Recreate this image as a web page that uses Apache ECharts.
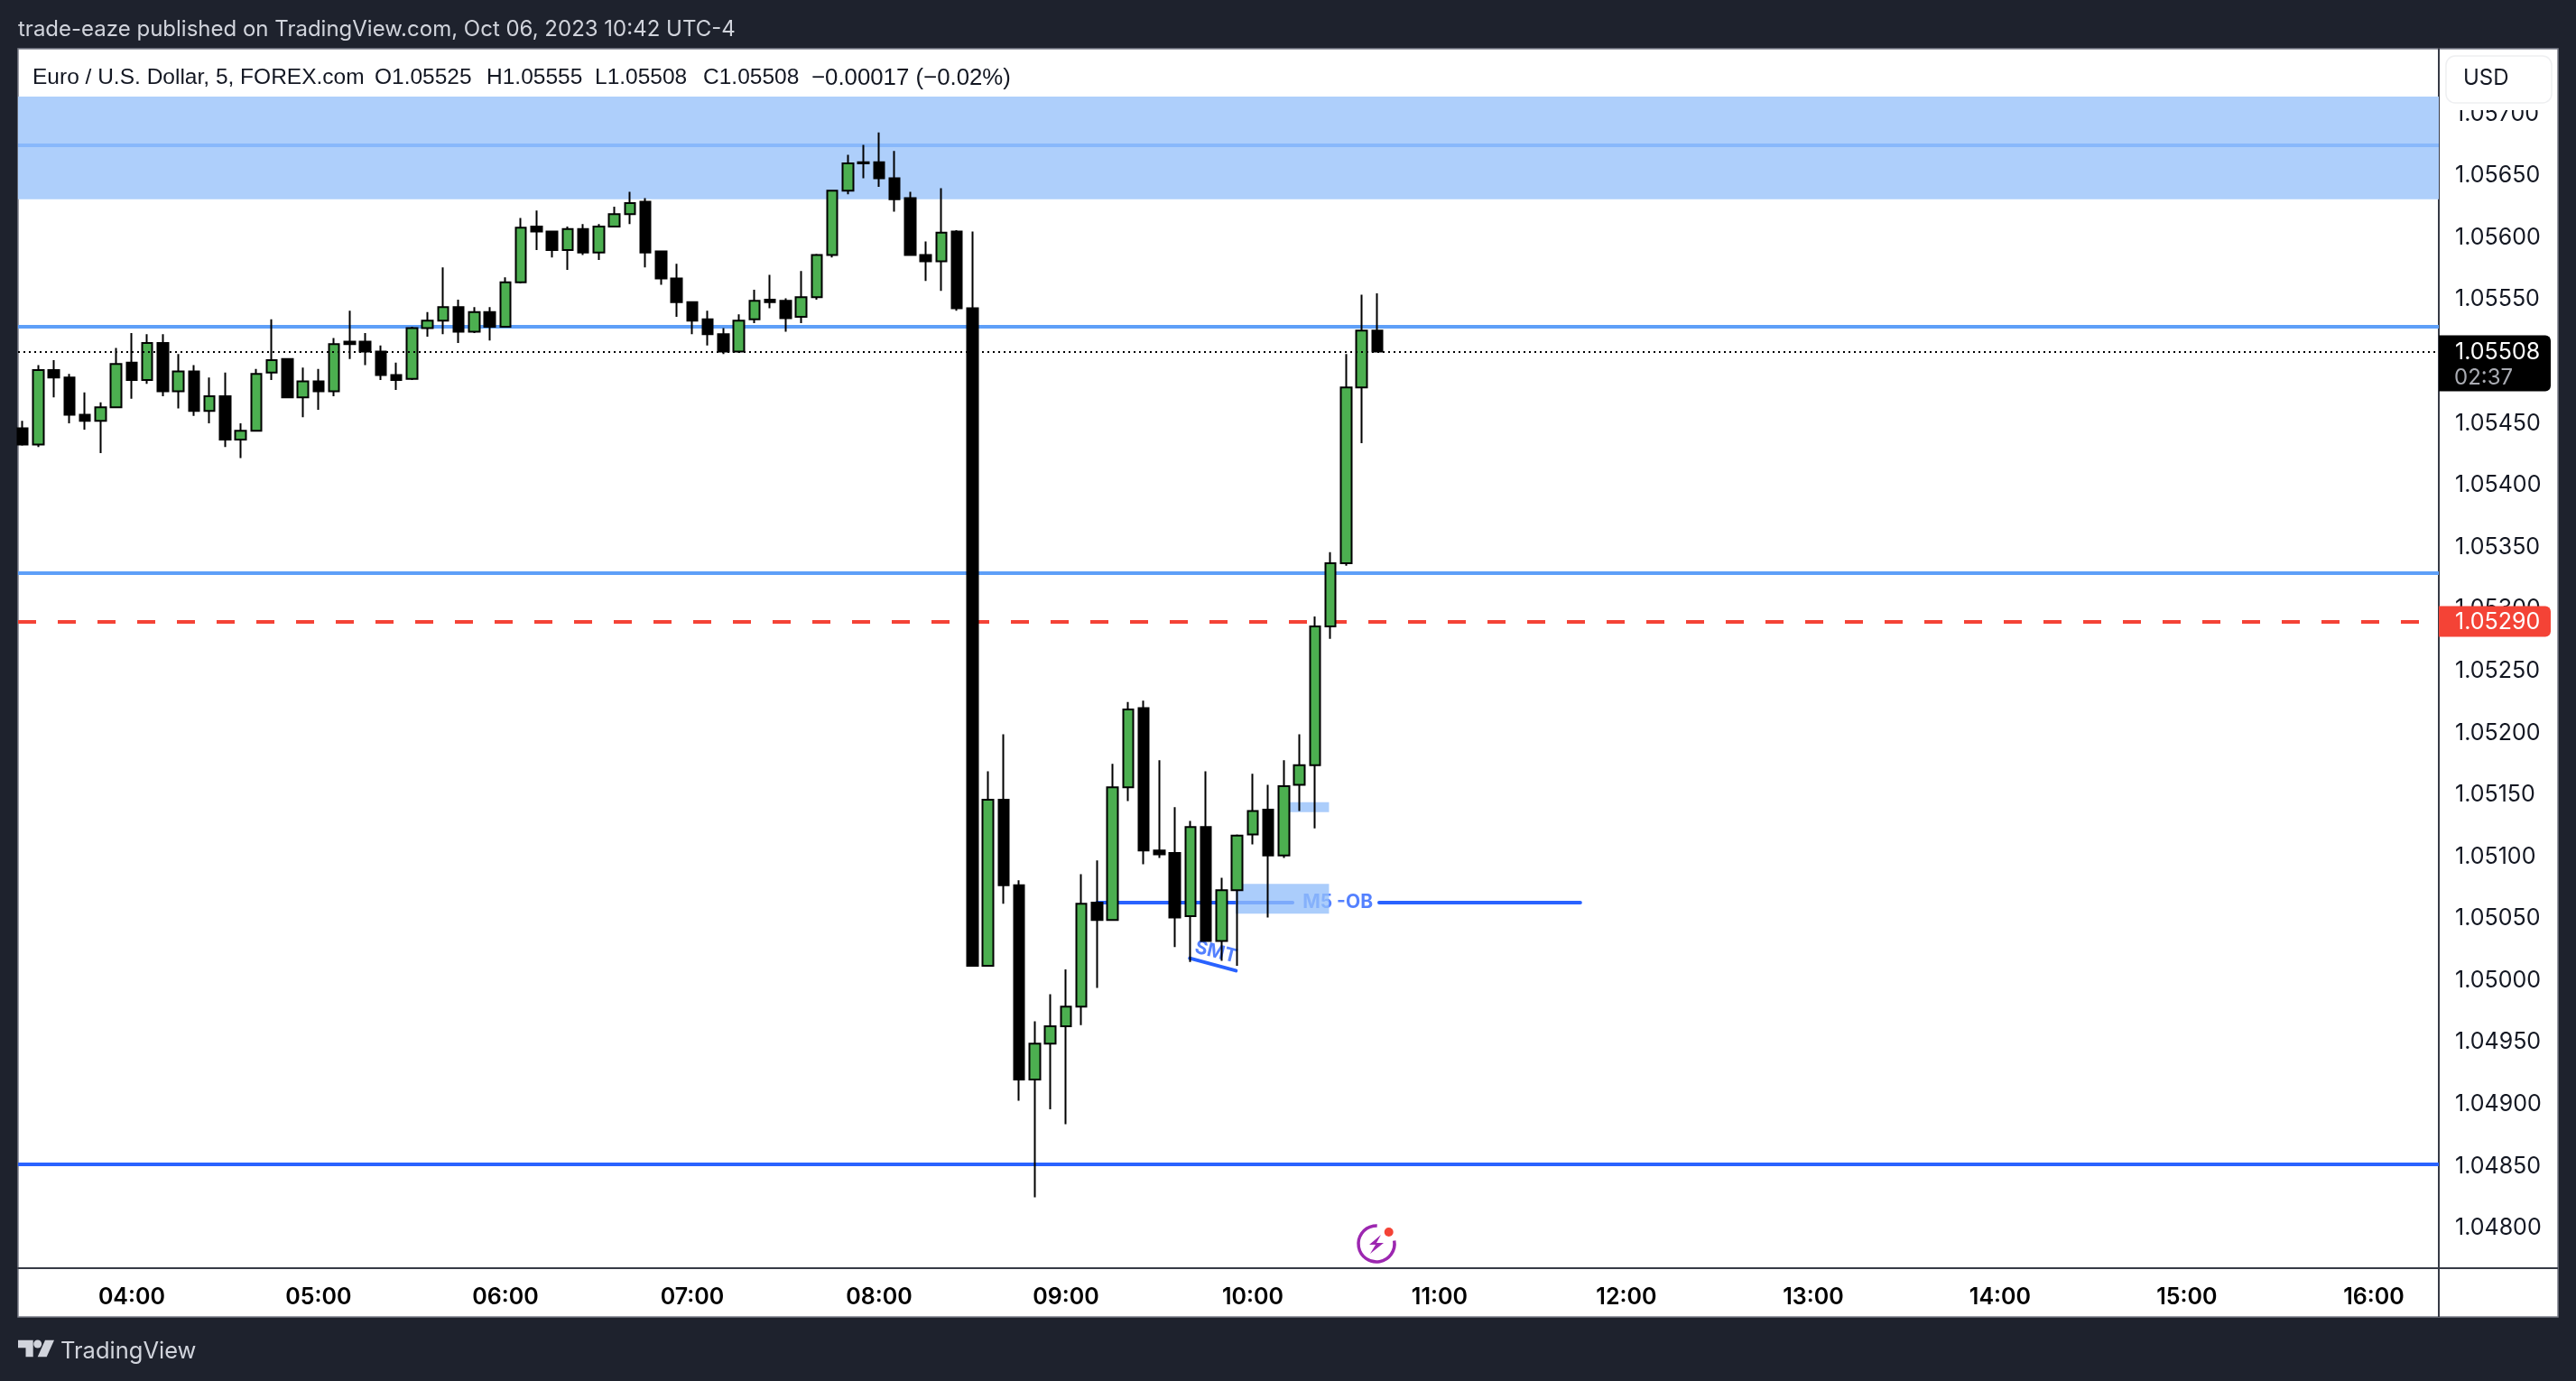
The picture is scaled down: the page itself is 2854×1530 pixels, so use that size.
<!DOCTYPE html>
<html><head><meta charset="utf-8">
<style>html,body{margin:0;padding:0;background:#1e222d}#c{width:2854px;height:1530px}</style>
<script src="https://cdn.jsdelivr.net/npm/echarts@6/dist/echarts.min.js"></script>
</head><body><div id="c"></div>
<script>
const firstBarMinute = 205, barMinutes = 5; // 03:25, 5-minute bars
const opens = [1.05446,1.05433,1.05493,1.05487,1.05457,1.05452,1.05463,1.05499,1.05485,1.05515,
1.05476,1.05492,1.05460,1.05472,1.05437,1.05444,1.05491,1.05502,1.05471,1.05484,
1.05476,1.05516,1.05516,1.05508,1.05489,1.05486,1.05527,1.05533,1.05544,1.05524,
1.05540,1.05528,1.05564,1.05609,1.05605,1.05590,1.05607,1.05588,1.05609,1.05619,
1.05629,1.05589,1.05567,1.05548,1.05534,1.05522,1.05508,1.05534,1.05550,1.05549,
1.05536,1.05552,1.05586,1.05638,1.05661,1.05661,1.05648,1.05632,1.05586,1.05581,
1.05605,1.05543,1.05012,1.05146,1.05077,1.04920,1.04949,1.04963,1.04979,1.05063,
1.05049,1.05156,1.05220,1.05105,1.05103,1.05052,1.05124,1.05032,1.05073,1.05118,
1.05138,1.05101,1.05158,1.05174,1.05286,1.05337,1.05479,1.05525];
const closes = [1.05433,1.05493,1.05487,1.05457,1.05452,1.05463,1.05498,1.05485,1.05515,1.05476,
1.05492,1.05460,1.05472,1.05437,1.05444,1.05490,1.05501,1.05471,1.05484,1.05476,
1.05514,1.05514,1.05508,1.05489,1.05485,1.05527,1.05533,1.05544,1.05524,1.05540,
1.05528,1.05564,1.05608,1.05605,1.05590,1.05607,1.05588,1.05609,1.05619,1.05628,
1.05588,1.05567,1.05548,1.05533,1.05522,1.05508,1.05533,1.05549,1.05548,1.05535,
1.05552,1.05586,1.05638,1.05660,1.05660,1.05648,1.05631,1.05586,1.05581,1.05604,
1.05543,1.05012,1.05146,1.05077,1.04920,1.04949,1.04963,1.04979,1.05062,1.05049,
1.05156,1.05219,1.05105,1.05102,1.05051,1.05124,1.05032,1.05073,1.05117,1.05137,
1.05101,1.05157,1.05174,1.05286,1.05337,1.05479,1.05525,1.05508];
const highs = [1.05452,1.05497,1.05501,1.05490,1.05475,1.05467,1.05511,1.05523,1.05522,1.05522,
1.05506,1.05497,1.05487,1.05491,1.05450,1.05494,1.05534,1.05502,1.05495,1.05494,
1.05519,1.05541,1.05523,1.05513,1.05499,1.05528,1.05540,1.05576,1.05550,1.05544,
1.05544,1.05568,1.05616,1.05622,1.05605,1.05609,1.05611,1.05611,1.05625,1.05637,
1.05632,1.05589,1.05579,1.05548,1.05541,1.05527,1.05538,1.05558,1.05570,1.05551,
1.05573,1.05587,1.05638,1.05667,1.05675,1.05685,1.05670,1.05637,1.05597,1.05640,
1.05606,1.05605,1.05169,1.05199,1.05081,1.04967,1.04989,1.05009,1.05086,1.05097,
1.05175,1.05225,1.05226,1.05178,1.05140,1.05129,1.05169,1.05083,1.05118,1.05167,
1.05158,1.05178,1.05199,1.05294,1.05346,1.05506,1.05554,1.05555];
const lows = [1.05432,1.05431,1.05471,1.05450,1.05445,1.05426,1.05463,1.05470,1.05482,1.05472,
1.05462,1.05456,1.05450,1.05431,1.05422,1.05444,1.05485,1.05471,1.05455,1.05461,
1.05472,1.05502,1.05497,1.05485,1.05477,1.05485,1.05520,1.05522,1.05515,1.05523,
1.05517,1.05528,1.05563,1.05590,1.05584,1.05574,1.05586,1.05582,1.05609,1.05611,
1.05576,1.05562,1.05536,1.05522,1.05513,1.05506,1.05507,1.05531,1.05543,1.05524,
1.05531,1.05550,1.05584,1.05635,1.05648,1.05641,1.05621,1.05586,1.05565,1.05557,
1.05541,1.05012,1.05012,1.05062,1.04903,1.04825,1.04896,1.04884,1.04964,1.04994,
1.05049,1.05145,1.05094,1.05099,1.05027,1.05015,1.05032,1.05016,1.05012,1.05110,
1.05051,1.05099,1.05137,1.05123,1.05276,1.05335,1.05434,1.05508];

const priceTicks = [1.048,1.0485,1.049,1.0495,1.05,1.0505,1.051,1.0515,1.052,1.0525,1.053,1.0535,1.054,1.0545,1.055,1.0555,1.056,1.0565,1.057];
const hourTicks = [240,300,360,420,480,540,600,660,720,780,840,900,960];
const hourLabels = ['04:00','05:00','06:00','07:00','08:00','09:00','10:00','11:00','12:00','13:00','14:00','15:00','16:00'];

const zoneTop = 1.05714, zoneBottom = 1.05631, zoneMid = 1.05675;
const levelUpper = 1.05528, levelLower = 1.05329, levelBottom = 1.04852;
const targetPrice = 1.05290, lastPrice = 1.05508;
const obPrice = 1.05063, obSegmentA = [550,612.8], obSegmentB = [640.6,705.2];
const obBox = [594.5,624.5,1.05054,1.05078], fvgBox = [610,624.5,1.05136,1.05144];
const smtLine = [[579.8,1.05018],[594.6,1.05008]], smtLabel = [588.2,1.05023], obLabel = [627.3,1.05063];

const PLOT = {l:20,t:54,r:2702,b:1405};
const FONT = 'Inter, "Noto Sans", sans-serif';
const LEG = '"Liberation Sans", Arial, sans-serif';

const chart = echarts.init(document.getElementById('c'), null, {renderer:'canvas', width:2854, height:1530});
const candleData = opens.map((o,i)=>[firstBarMinute+i*barMinutes,o,closes[i],lows[i],highs[i]]);
const noLabel = {show:false};
const hline = (y,color,width,type)=>({yAxis:y,lineStyle:{color,width,type:type||'solid',cap:'butt',opacity:1}});

function txt(x,y,text,fill,size,opts){
  return Object.assign({type:'text',x,y,z:120,silent:true,style:Object.assign({text,fill,fontSize:size,fontFamily:FONT,textVerticalAlign:'middle',textAlign:'left'},(opts||{}))});
}

const option = {
  animation:false,
  backgroundColor:'#1e222d',
  grid:{left:PLOT.l,top:PLOT.t,width:PLOT.r-PLOT.l,height:PLOT.b-PLOT.t,containLabel:false},
  xAxis:{type:'value',min:203.5,max:980.9,scale:true,
    axisLine:{show:true,onZero:false,lineStyle:{color:'#363a45',width:2}},
    axisTick:{show:false},splitLine:{show:false},
    axisLabel:{customValues:hourTicks,margin:20,color:'#000',fontSize:25,fontWeight:600,fontFamily:FONT,
      formatter:v=>hourLabels[hourTicks.indexOf(v)]||'',hideOverlap:false}},
  yAxis:{type:'value',position:'right',min:1.047677,max:1.057526,scale:true,
    axisLine:{show:true,onZero:false,lineStyle:{color:'#363a45',width:2}},
    axisTick:{show:false},splitLine:{show:false},
    axisLabel:{customValues:priceTicks,margin:18,color:'#131722',fontSize:25,fontFamily:FONT,padding:[9,0,0,0],
      formatter:v=>v.toFixed(5),hideOverlap:false,showMinLabel:true,showMaxLabel:true}},
  series:[
    {name:'Zone',type:'line',data:[],z:1,silent:true,
      markArea:{z:1,silent:true,itemStyle:{color:'#aecffb',opacity:1},label:noLabel,data:[[{yAxis:zoneTop},{yAxis:zoneBottom}]]},
      markLine:{z:2,silent:true,symbol:'none',precision:6,label:noLabel,animation:false,data:[hline(zoneMid,'#88b8fb',4)]}},
    {name:'Levels',type:'line',data:[],z:2,silent:true,
      markLine:{z:2,silent:true,symbol:'none',precision:6,label:noLabel,animation:false,data:[
        hline(levelUpper,'#5e9ff8',4),hline(levelLower,'#5e9ff8',4),hline(levelBottom,'#2962ff',4),
        hline(targetPrice,'#f44336',4,[20,24])]}},
    {name:'Order block',type:'line',data:[],z:2,silent:true,
      markLine:{z:2,silent:true,symbol:'none',precision:6,label:noLabel,animation:false,
        lineStyle:{color:'#2962ff',width:4,type:'solid',cap:'round'},
        data:[
          [{coord:[obSegmentA[0],obPrice]},{coord:[obSegmentA[1],obPrice]}],
          [{coord:[obSegmentB[0],obPrice]},{coord:[obSegmentB[1],obPrice]}],
          [{coord:smtLine[0]},{coord:smtLine[1]}]
        ]}},
    {name:'Notes',type:'scatter',z:2,silent:true,symbolSize:2,itemStyle:{color:'rgba(0,0,0,0)'},
      data:[
        {value:obLabel,label:{show:true,position:'inside',formatter:'M5 -OB',color:'#2962ff',fontSize:21,fontWeight:700,fontFamily:FONT}},
        {value:smtLabel,label:{show:true,position:'inside',formatter:'SMT',rotate:-14,color:'#2962ff',fontSize:21,fontWeight:700,fontFamily:FONT}}
      ]},
    {name:'Boxes',type:'line',data:[],z:3,silent:true,
      markArea:{z:3,silent:true,itemStyle:{color:'rgb(148,191,250)',opacity:0.78},label:noLabel,data:[
        [{coord:[obBox[0],obBox[3]]},{coord:[obBox[1],obBox[2]]}],
        [{coord:[fvgBox[0],fvgBox[3]]},{coord:[fvgBox[1],fvgBox[2]]}]
      ]}},
    {name:'EURUSD',type:'candlestick',z:5,silent:true,barWidth:12,encode:{x:0,y:[1,2,3,4]},
      itemStyle:{color:'#4caf50',color0:'#000000',borderColor:'#000000',borderColor0:'#000000',borderWidth:2},
      data:candleData},
    {name:'Last',type:'line',data:[],z:6,silent:true,
      markLine:{z:6,silent:true,symbol:'none',precision:6,label:noLabel,animation:false,data:[hline(lastPrice,'#000000',2,[2,4])]}}
  ]
};
chart.setOption(option);

const yLast = chart.convertToPixel({yAxisIndex:0},lastPrice);
const yTarget = chart.convertToPixel({yAxisIndex:0},targetPrice);
const gfx = [
  {type:'rect',z:-1,silent:true,shape:{x:20,y:54,width:2814,height:1405},style:{fill:'#ffffff',stroke:'#7b7e89',lineWidth:1.5}},
  {type:'line',z:110,silent:true,shape:{x1:2702,y1:1405,x2:2702,y2:1459},style:{stroke:'#363a45',lineWidth:2}},
  {type:'line',z:110,silent:true,shape:{x1:2702,y1:1405,x2:2834,y2:1405},style:{stroke:'#363a45',lineWidth:2}},
  // USD box with the white margin that cuts the tick label below it
  {type:'rect',z:105,silent:true,shape:{x:2704,y:55,width:129,height:67},style:{fill:'#ffffff'}},
  {type:'rect',z:110,silent:true,shape:{x:2710,y:62,width:117,height:52,r:10},style:{fill:'#ffffff',stroke:'#eeeff1',lineWidth:1.5}},
  txt(2729,87,'USD','#131722',24),
  // price tags
  {type:'rect',z:110,silent:true,shape:{x:2702,y:yLast-18,width:124,height:62,r:[0,6,6,0]},style:{fill:'#000000'}},
  txt(2720,yLast+1,'1.05508','#ffffff',25),
  txt(2719,yLast+29,'02:37','#a9abb2',24),
  {type:'rect',z:110,silent:true,shape:{x:2702,y:yTarget-17,width:124,height:34,r:[0,6,6,0]},style:{fill:'#f44336'}},
  txt(2720,yTarget+1,'1.05290','#ffffff',25),
  // header
  txt(20,33,'trade-eaze published on TradingView.com, Oct 06, 2023 10:42 UTC-4','#d1d4dc',24),
  // legend
  txt(36,86.5,'Euro / U.S. Dollar, 5, FOREX.com','#131722',24.5,{fontFamily:LEG}),
  txt(415,86.5,'O1.05525','#131722',24.5,{fontFamily:LEG}),
  txt(539,86.5,'H1.05555','#131722',24.5,{fontFamily:LEG}),
  txt(659,86.5,'L1.05508','#131722',24.5,{fontFamily:LEG}),
  txt(779,86.5,'C1.05508','#131722',24.5,{fontFamily:LEG}),
  txt(899,86.5,'\u22120.00017 (\u22120.02%)','#131722',25.8,{fontFamily:LEG}),
  // footer wordmark
  txt(67,1497,'TradingView','#d1d4dc',25.5),
  {type:'polygon',z:120,silent:true,shape:{points:[[20,1484.7],[36.7,1484.7],[36.7,1503.3],[28.5,1503.3],[28.5,1493.3],[20,1493.3]]},style:{fill:'#d1d4dc'}},
  {type:'circle',z:120,silent:true,shape:{cx:41.7,cy:1489,r:4.5},style:{fill:'#d1d4dc'}},
  {type:'polygon',z:120,silent:true,shape:{points:[[50,1484.7],[60,1484.7],[51.7,1503.3],[41.7,1503.3]]},style:{fill:'#d1d4dc'}},
  // event icon
  {type:'arc',z:120,silent:true,shape:{cx:1525,cy:1378,r:20,startAngle:-10*Math.PI/180,endAngle:272*Math.PI/180,clockwise:true},style:{fill:'none',stroke:'#9c27b0',lineWidth:3.5}},
  {type:'circle',z:120,silent:true,shape:{cx:1538.7,cy:1365,r:5},style:{fill:'#f44336'}},
  {type:'polygon',z:120,silent:true,shape:{points:[[1530,1368],[1517,1379],[1524,1379],[1518,1389],[1533,1377],[1525,1377]]},style:{fill:'#9c27b0'}}
];
chart.setOption({graphic:{elements:gfx}});
</script></body></html>
